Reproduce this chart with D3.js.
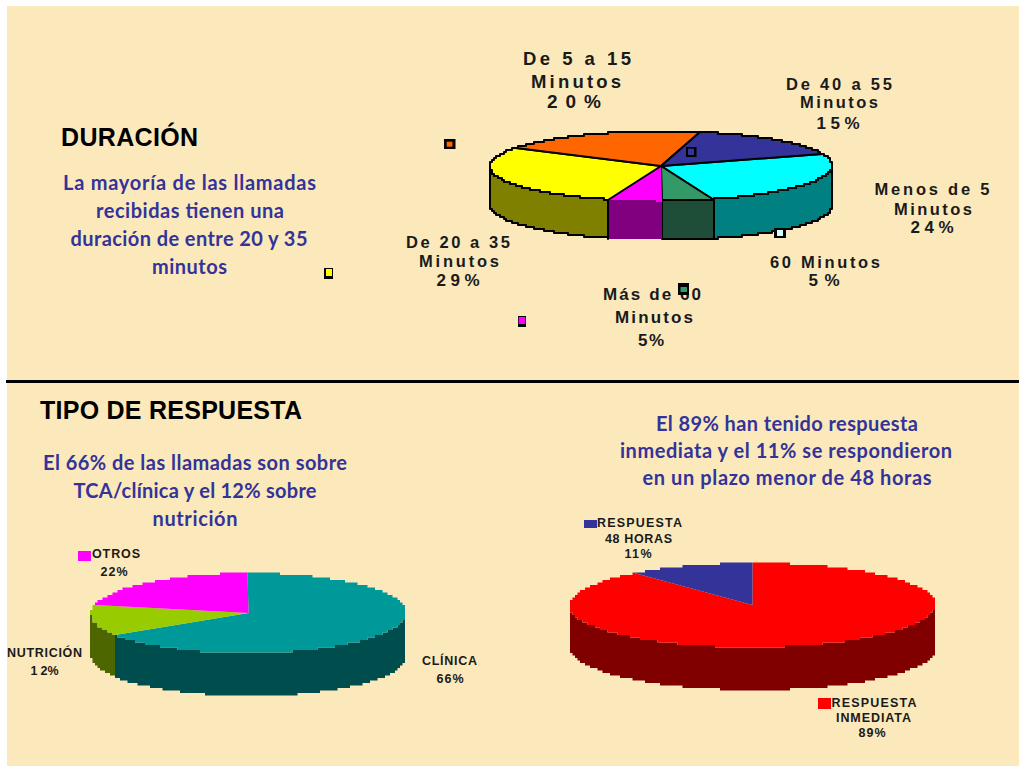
<!DOCTYPE html>
<html>
<head>
<meta charset="utf-8">
<script src="https://cdn.jsdelivr.net/npm/d3@7"></script>
<style>
  html, body { margin: 0; padding: 0; background: #fff; }
  svg { display: block; }
  .label { font-family: "Liberation Sans", Arial, sans-serif; font-weight: bold; fill: #1a1a1a; }
  .note { font-family: "Lato", "Open Sans", sans-serif; font-weight: bold; fill: #333399; }
  .heading { font-family: "Liberation Sans", Arial, sans-serif; font-weight: bold; fill: #000; }
</style>
</head>
<body>
<div id="chart"></div>
<script>
const duracionCategories = ["Menos de 5 Minutos", "60 Minutos", "Más de 60 Minutos", "De 20 a 35 Minutos", "De 5 a 15 Minutos", "De 40 a 55 Minutos"];
const duracionValues = [25.5, 5, 5, 29, 19.7, 15.8];

const temaCategories = ["CLÍNICA", "NUTRICIÓN", "OTROS"];
const temaValues = [66, 12, 22];

const respuestaCategories = ["RESPUESTA INMEDIATA", "RESPUESTA 48 HORAS"];
const respuestaValues = [88.7, 11.3];

// Colours, same order as the categories
const duracionColors = ["#00ffff", "#339966", "#ff00ff", "#ffff00", "#ff6600", "#333399"];
const duracionWalls = ["#008080", "#1f4e38", "#800080", "#808000", "#803300", "#1a1a4d"];
const temaColors = ["#009999", "#99cc00", "#ff00ff"];
const temaWalls = ["#004d4d", "#4d6600", "#800080"];
const respuestaColors = ["#ff0000", "#333399"];
const respuestaWalls = ["#800000", "#1a1a4d"];

// Dimensions
const dimensions = { width: 1019, height: 766 };
const toRad = (deg) => (deg * Math.PI) / 180;

const svg = d3
  .select("#chart")
  .append("svg")
  .attr("width", dimensions.width)
  .attr("height", dimensions.height);

svg.append("rect").attr("x", 7).attr("y", 6).attr("width", 1012).attr("height", 760).attr("fill", "#fbe9bc");
svg.append("rect").attr("x", 6).attr("y", 380).attr("width", 1013).attr("height", 3).attr("fill", "#000");

// 3D pie: d3.pie gives the angles, the ellipse is just two scales on the unit circle
function pie3d(config) {
  const { cx, cy, rx, ry, depth, values, colors, walls, startDeg, outline, step } = config;
  const g = svg.append("g");

  const xScale = d3.scaleLinear().domain([-1, 1]).range([cx - rx, cx + rx]);
  const yScale = d3.scaleLinear().domain([-1, 1]).range([cy - ry, cy + ry]);

  const arcs = d3
    .pie()
    .sort(null)
    .startAngle(toRad(startDeg))
    .endAngle(toRad(startDeg + 360))(values);

  // the picture is a low res bitmap, so the rims are stair stepped
  // sampled on one angle grid so that faces and walls share the same stairs
  const snap = (v) => Math.round(v / step) * step;
  const grid = toRad(1.5);
  const rim = (a0, a1, dy = 0) => {
    const angles = [a0];
    for (let k = Math.floor(a0 / grid) + 1; k * grid < a1; k++) angles.push(k * grid);
    angles.push(a1);
    return angles.map((a) => [snap(xScale(Math.sin(a))), snap(yScale(-Math.cos(a))) + dy]);
  };
  const stepLine = d3.line().curve(d3.curveStepAfter);

  const stroke = (i) => (outline && i !== outline.skip ? "#000" : "none");
  const strokeWidth = outline ? outline.width : 0;

  // Walls, only the front half shows
  g.selectAll("path.wall")
    .data(arcs.filter((d) => d.startAngle < (3 * Math.PI) / 2 && d.endAngle > Math.PI / 2))
    .join("path")
    .attr("class", "wall")
    .attr("d", (d) => {
      const a0 = Math.max(d.startAngle, Math.PI / 2);
      const a1 = Math.min(d.endAngle, (3 * Math.PI) / 2);
      const top = stepLine(rim(a0, a1));
      const bottom = stepLine(rim(a0, a1, depth).reverse());
      return top + "L" + bottom.slice(1) + "Z";
    })
    .attr("fill", (d) => walls[d.index])
    .attr("stroke", (d) => stroke(d.index))
    .attr("stroke-width", strokeWidth)
    .attr("stroke-linejoin", "round");

  // Top faces
  g.selectAll("path.face")
    .data(arcs)
    .join("path")
    .attr("class", "face")
    .attr("d", (d) => `M${xScale(0)},${yScale(0)}L` + stepLine(rim(d.startAngle, d.endAngle)).slice(1) + "Z")
    .attr("fill", (d) => colors[d.index])
    .attr("stroke", (d) => stroke(d.index))
    .attr("stroke-width", strokeWidth)
    .attr("stroke-linejoin", "round");
}

pie3d({
  cx: 661, cy: 166, rx: 171, ry: 35, depth: 39, step: 2,
  values: duracionValues, colors: duracionColors, walls: duracionWalls,
  startDeg: 70, outline: { width: 2, skip: 2 },
});
pie3d({
  cx: 248.5, cy: 613, rx: 157.5, ry: 40, depth: 43, step: 2.5,
  values: temaValues, colors: temaColors, walls: temaWalls,
  startDeg: 0,
});
pie3d({
  cx: 752.5, cy: 605, rx: 183, ry: 42, depth: 43, step: 2.5,
  values: respuestaValues, colors: respuestaColors, walls: respuestaWalls,
  startDeg: 0,
});

// Text: [string, centre x, baseline, width, font size]
function putText(cls, rows) {
  svg
    .append("g")
    .selectAll("text")
    .data(rows)
    .join("text")
    .attr("class", cls)
    .attr("text-anchor", "middle")
    .attr("x", (d) => d[1])
    .attr("y", (d) => d[2])
    .attr("textLength", (d) => d[3])
    .attr("lengthAdjust", "spacing")
    .attr("font-size", (d) => d[4])
    .text((d) => d[0]);
}

putText("heading", [
  ["DURACIÓN", 129.5, 146, 137, 25],
  ["TIPO DE RESPUESTA", 171, 419, 262, 25],
]);

putText("note", [
  ["La mayoría de las llamadas", 189.5, 190, 253, 20],
  ["recibidas tienen una", 190, 218, 188, 20],
  ["duración de entre 20 y 35", 189, 246, 237, 20],
  ["minutos", 189.5, 274, 75, 20],
  ["El 66% de las llamadas son sobre", 195, 470, 304, 20],
  ["TCA/clínica y el 12% sobre", 195, 498, 243, 20],
  ["nutrición", 195, 526, 85, 20],
  ["El 89% han tenido respuesta", 787, 431, 262, 20],
  ["inmediata y el 11% se respondieron", 786, 458, 332, 20],
  ["en un plazo menor de 48 horas", 787, 485, 289, 20],
]);

putText("label", [
  ["De 5 a 15", 577, 65, 108, 18.5],
  ["Minutos", 576, 88, 90, 18.5],
  ["20%", 574, 108, 54, 19],
  ["De 40 a 55", 839, 90, 106, 16.5],
  ["Minutos", 839, 108, 78, 16.5],
  ["15%", 838, 129, 43, 17],
  ["Menos de 5", 932, 195, 115, 16.5],
  ["Minutos", 933, 215, 78, 16.5],
  ["24%", 932, 233, 43, 17],
  ["60 Minutos", 825, 268, 110, 16.5],
  ["5%", 824, 286, 31, 17],
  ["De 20 a 35", 458, 248, 104, 16.5],
  ["Minutos", 459, 266.5, 80, 16.5],
  ["29%", 458, 286, 43, 17],
  ["Más de 60", 652, 300, 98, 17],
  ["Minutos", 654, 323, 78, 17],
  ["5%", 651, 346, 26, 17],
  ["OTROS", 116, 558, 48, 12.5],
  ["22%", 114, 576, 27, 12.5],
  ["NUTRICIÓN", 44.5, 657, 75, 12.5],
  ["1 2%", 44.5, 675, 28, 12.5],
  ["CLÍNICA", 449.5, 665, 55, 12.5],
  ["66%", 450, 683, 27, 12.5],
  ["RESPUESTA", 639.5, 527, 85, 12.5],
  ["48 HORAS", 638.5, 543, 67, 12.5],
  ["11%", 638, 558, 27, 12.5],
  ["RESPUESTA", 874, 707, 85, 12.5],
  ["INMEDIATA", 873.5, 722, 75, 12.5],
  ["89%", 872, 737, 27, 12.5],
]);

// Legend keys, they sit loose around the first pie like in the slide: black box with a small colour box inside
const duracionKeys = [
  { outer: [774, 228, 12, 10], inner: [777, 230, 6, 6], color: "#ccffff" },
  { outer: [678, 283, 11, 12], inner: [680.5, 287, 6.5, 5], color: "#339966" },
  { outer: [518, 316, 8, 11], inner: [518.7, 317, 6.8, 7], color: "#ff00ff" },
  { outer: [324, 268, 9, 11], inner: [326, 269, 6, 7], color: "#ffff00" },
  { outer: [444, 139, 11.5, 10], inner: [446.7, 141.7, 5.7, 5], color: "#ff6600" },
  { outer: [686, 147, 10.5, 10], inner: [688, 148.7, 6, 6.3], color: "#333399" },
];
const keyGroup = svg.append("g");
keyGroup
  .selectAll("rect.outer")
  .data(duracionKeys)
  .join("rect")
  .attr("class", "outer")
  .attr("x", (d) => d.outer[0])
  .attr("y", (d) => d.outer[1])
  .attr("width", (d) => d.outer[2])
  .attr("height", (d) => d.outer[3])
  .attr("fill", "#000");
keyGroup
  .selectAll("rect.inner")
  .data(duracionKeys)
  .join("rect")
  .attr("class", "inner")
  .attr("x", (d) => d.inner[0])
  .attr("y", (d) => d.inner[1])
  .attr("width", (d) => d.inner[2])
  .attr("height", (d) => d.inner[3])
  .attr("fill", (d) => d.color);

// Plain keys for the two lower pies
const lowerKeys = [[78, 551, 13, 10, "#ff00ff"], [584, 520, 13, 8, "#333399"], [818, 698, 13, 11, "#ff0000"]];
svg
  .append("g")
  .selectAll("rect")
  .data(lowerKeys)
  .join("rect")
  .attr("x", (d) => d[0])
  .attr("y", (d) => d[1])
  .attr("width", (d) => d[2])
  .attr("height", (d) => d[3])
  .attr("fill", (d) => d[4]);
</script>
</body>
</html>
